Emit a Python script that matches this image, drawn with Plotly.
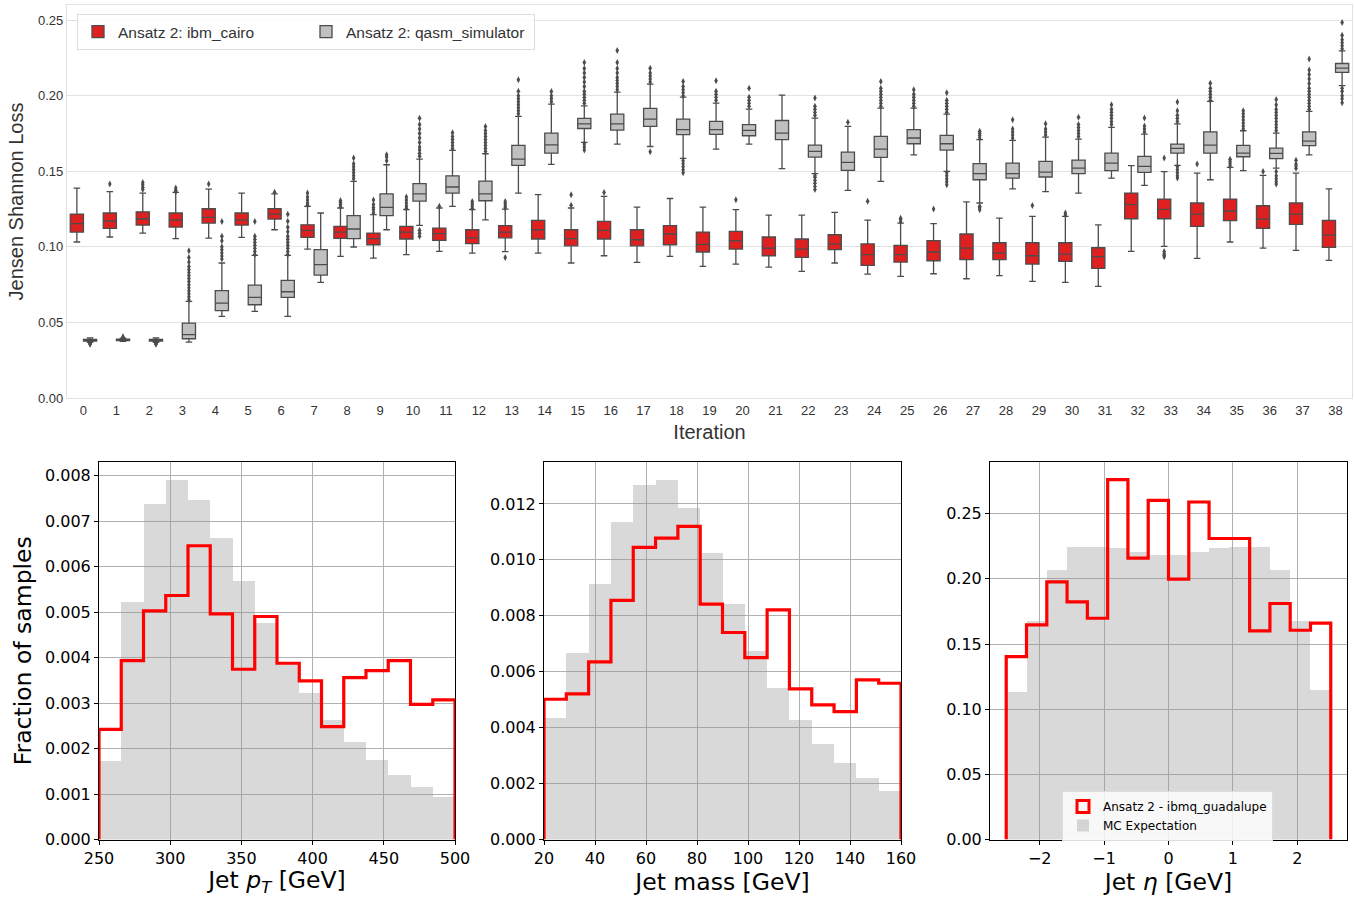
import plotly.graph_objects as go
import numpy as np

# ---------------- Top panel: box statistics ----------------
iterations = list(range(39))

red_lf = [0.1032,0.1065,0.1091,0.1054,0.1058,0.1063,0.1113,0.0985,0.0937,0.0926,0.0948,0.0970,0.0959,0.0968,0.0959,0.0893,0.0941,0.0897,0.0937,0.0871,0.0886,0.0866,0.0838,0.0893,0.0820,0.0805,0.0822,0.0789,0.0809,0.0772,0.0765,0.0739,0.0970,0.1003,0.0924,0.1032,0.0992,0.0976,0.0910]
red_q1 = [0.1098,0.1122,0.1144,0.1131,0.1157,0.1144,0.1184,0.1063,0.1056,0.1014,0.1052,0.1043,0.1021,0.1060,0.1052,0.1007,0.1052,0.1007,0.1014,0.0966,0.0985,0.0941,0.0930,0.0981,0.0877,0.0899,0.0908,0.0915,0.0915,0.0886,0.0904,0.0858,0.1186,0.1186,0.1135,0.1173,0.1122,0.1149,0.0996]
red_med = [0.1153,0.1171,0.1186,0.1179,0.1195,0.1179,0.1217,0.1109,0.1098,0.1054,0.1098,0.1087,0.1060,0.1098,0.1113,0.1054,0.1109,0.1047,0.1085,0.1016,0.1041,0.0992,0.0985,0.1019,0.0948,0.0948,0.0966,0.0992,0.0959,0.0941,0.0952,0.0935,0.1279,0.1248,0.1217,0.1237,0.1184,0.1217,0.1078]
red_q3 = [0.1217,0.1224,0.1232,0.1224,0.1252,0.1224,0.1252,0.1146,0.1135,0.1091,0.1135,0.1124,0.1113,0.1140,0.1175,0.1113,0.1168,0.1113,0.1140,0.1098,0.1102,0.1065,0.1052,0.1080,0.1019,0.1010,0.1041,0.1085,0.1027,0.1027,0.1027,0.0994,0.1356,0.1316,0.1290,0.1316,0.1272,0.1290,0.1175]
red_uf = [0.1389,0.1365,0.1356,0.1360,0.1382,0.1356,0.1350,0.1268,0.1257,0.1213,0.1246,0.1257,0.1246,0.1250,0.1345,0.1257,0.1334,0.1263,0.1320,0.1263,0.1246,0.1210,0.1210,0.1228,0.1177,0.1157,0.1153,0.1298,0.1190,0.1202,0.1202,0.1146,0.1537,0.1497,0.1488,0.1526,0.1473,0.1488,0.1384]
red_outliers = [
    [], [0.1415], [0.1380,0.1395,0.1410,0.1426], [0.1365,0.1375,0.1389], [0.1415], [], [0.1362],
    [0.1275,0.1290,0.1310,0.1330,0.1356], [0.1265,0.1280,0.1295,0.1307], [0.1225,0.1245,0.1260,0.1280,0.1310],
    [0.1255,0.1270,0.1290,0.1310,0.1330], [0.1268], [0.1255,0.1270,0.1285,0.1300], [0.1258,0.1270,0.1285,0.1300,0.0930],
    [], [0.1275,0.1345], [0.1360], [], [], [], [0.1312], [], [], [], [0.1301], [0.1165,0.1180,0.1190], [0.1250],
    [], [], [0.1274], [0.1210,0.1224], [], [], [0.1587,0.0935,0.0945,0.0955,0.0970], [0.1548],
    [0.1535,0.1550,0.1565,0.1580], [0.1499], [0.1520,0.1535,0.1548,0.1573], [],
]

gray_lf = [0.0368,0.0375,0.0368,0.0370,0.0540,0.0573,0.0540,0.0765,0.0999,0.1113,0.1142,0.1268,0.1179,0.1356,0.1545,0.1691,0.1680,0.1664,0.1585,0.1647,0.1680,0.1517,0.1484,0.1373,0.1433,0.1609,0.1499,0.1290,0.1384,0.1365,0.1356,0.1455,0.1407,0.1539,0.1444,0.1504,0.1521,0.1609,0.2066]
gray_q1 = [0.0377,0.0380,0.0377,0.0392,0.0578,0.0617,0.0666,0.0813,0.1054,0.1206,0.1303,0.1356,0.1305,0.1539,0.1620,0.1783,0.1772,0.1797,0.1742,0.1744,0.1735,0.1709,0.1594,0.1506,0.1592,0.1682,0.1640,0.1444,0.1455,0.1462,0.1484,0.1504,0.1493,0.1620,0.1620,0.1596,0.1583,0.1669,0.2154]
gray_med = [0.0382,0.0385,0.0382,0.0419,0.0628,0.0666,0.0703,0.0882,0.1118,0.1261,0.1351,0.1396,0.1351,0.1581,0.1675,0.1814,0.1814,0.1845,0.1775,0.1775,0.1770,0.1753,0.1631,0.1559,0.1647,0.1720,0.1682,0.1484,0.1484,0.1495,0.1521,0.1554,0.1532,0.1651,0.1673,0.1620,0.1618,0.1700,0.2183]
gray_q3 = [0.0388,0.0390,0.0388,0.0496,0.0710,0.0747,0.0778,0.0981,0.1206,0.1351,0.1418,0.1470,0.1435,0.1671,0.1753,0.1850,0.1878,0.1916,0.1845,0.1830,0.1808,0.1836,0.1673,0.1627,0.1731,0.1775,0.1737,0.1550,0.1554,0.1565,0.1574,0.1620,0.1598,0.1680,0.1761,0.1671,0.1653,0.1761,0.2213]
gray_uf = [0.0398,0.0396,0.0398,0.0639,0.0893,0.0944,0.0944,0.1224,0.1433,0.1543,0.1580,0.1638,0.1616,0.1863,0.1944,0.1933,0.2024,0.2077,0.1991,0.1951,0.1911,0.2004,0.1852,0.1797,0.1918,0.1918,0.1878,0.1709,0.1704,0.1726,0.1713,0.1790,0.1746,0.1814,0.1962,0.1768,0.1753,0.1896,0.2297]
gray_outliers = [
    [0.0355,0.0360,0.0363], [0.0400,0.0405], [0.0355,0.0360,0.0363],
    [0.065,0.067,0.069,0.071,0.073,0.075,0.077,0.079,0.081,0.083,0.085,0.087,0.090,0.093,0.0975],
    [0.092,0.094,0.096,0.098,0.100,0.104,0.107,0.1168],
    [0.095,0.097,0.099,0.101,0.103,0.105,0.107,0.1168],
    [0.095,0.097,0.099,0.101,0.103,0.105,0.107,0.110,0.113,0.117,0.1215],
    [],
    [0.145,0.147,0.149,0.151,0.153,0.155,0.1587],
    [0.157,0.1595,0.1609],
    [0.160,0.162,0.164,0.166,0.169,0.172,0.175,0.178,0.181,0.185,0.107,0.109,0.111],
    [0.165,0.167,0.169,0.171,0.173,0.1755],
    [0.163,0.165,0.167,0.169,0.171,0.173,0.175,0.177,0.1797],
    [0.188,0.190,0.192,0.194,0.196,0.198,0.200,0.203,0.2105],
    [0.196,0.198,0.200,0.2028],
    [0.195,0.197,0.199,0.201,0.203,0.206,0.209,0.212,0.215,0.218,0.222,0.164,0.166,0.168],
    [0.204,0.206,0.208,0.210,0.212,0.215,0.218,0.222,0.2299],
    [0.209,0.211,0.213,0.215,0.2182,0.1629],
    [0.200,0.202,0.204,0.206,0.2094,0.149,0.151,0.153,0.155,0.157],
    [0.197,0.199,0.201,0.203,0.2099],
    [0.193,0.195,0.197,0.199,0.2050],
    [],
    [0.187,0.189,0.191,0.193,0.1984,0.138,0.140,0.142,0.144,0.146,0.147],
    [0.1825],
    [0.193,0.195,0.197,0.199,0.201,0.203,0.205,0.2094],
    [0.193,0.195,0.197,0.199,0.201,0.2039],
    [0.189,0.191,0.193,0.195,0.197,0.2019,0.141,0.143,0.145,0.147,0.149],
    [0.172,0.1736,0.175,0.1764,0.1246,0.1258,0.1268],
    [0.172,0.174,0.176,0.178,0.1841],
    [0.174,0.176,0.178,0.1814],
    [0.173,0.175,0.177,0.179,0.181,0.1858],
    [0.181,0.183,0.185,0.187,0.189,0.191,0.194],
    [0.176,0.178,0.180,0.1852],
    [0.183,0.185,0.187,0.190,0.1958,0.1455,0.147,0.149,0.151,0.153],
    [0.197,0.199,0.201,0.203,0.205,0.2083],
    [0.178,0.180,0.182,0.184,0.186,0.188,0.190],
    [0.177,0.179,0.181,0.183,0.185,0.187,0.189,0.191,0.194,0.1975,0.1415,0.143,0.145,0.147,0.1499],
    [0.191,0.193,0.195,0.197,0.199,0.201,0.203,0.205,0.208,0.211,0.214,0.217,0.2242],
    [0.231,0.233,0.235,0.237,0.240,0.2485,0.1953,0.198,0.200,0.203,0.205],
]

# ---------------- Bottom panels: histograms ----------------
pt_range = (250, 500)
pt_mc = [0.001725,0.005218,0.007383,0.007912,0.007471,0.006635,0.005688,0.004771,0.00390,0.003222,0.002628,0.002136,0.001747,0.001417,0.001145,0.000939]
pt_q = [0.002422,0.003934,0.005028,0.005365,0.006459,0.004961,0.003743,0.004903,0.003875,0.003486,0.002481,0.003560,0.003714,0.003934,0.002972,0.003068]

mass_range = (20, 160)
mass_mc = [0.004334,0.006675,0.009134,0.01137,0.01269,0.01286,0.01186,0.01024,0.00843,0.006734,0.005421,0.004275,0.003415,0.002734,0.002185,0.001731]
mass_q = [0.005015,0.005206,0.006352,0.008549,0.010448,0.01078,0.01120,0.008418,0.007403,0.006507,0.008215,0.005385,0.004812,0.004573,0.005707,0.005588]

eta_range = (-2.52, 2.52)
eta_mc = [0.1132,0.1675,0.2070,0.2246,0.2246,0.2239,0.2205,0.2185,0.2185,0.2208,0.2239,0.2246,0.2246,0.2070,0.1675,0.1148]
eta_q = [0.1404,0.1647,0.1977,0.1824,0.1698,0.2761,0.2159,0.2602,0.1998,0.2590,0.2310,0.2310,0.1601,0.1811,0.1606,0.1660]

RED_BOX = '#df2020'
GRAY_BOX = '#c0c0c0'
EDGE = '#4c4c4c'
TOPFONT = 'Liberation Sans, Arial, sans-serif'
BOTFONT = 'DejaVu Sans, sans-serif'
TOPTXT = '#333333'

fig = go.Figure()

fig.add_trace(go.Box(
    x=iterations, q1=red_q1, median=red_med, q3=red_q3,
    lowerfence=red_lf, upperfence=red_uf,
    name='Ansatz 2: ibm_cairo', fillcolor=RED_BOX,
    line=dict(color=EDGE, width=1.3), whiskerwidth=0.5,
    offsetgroup='red', xaxis='x', yaxis='y', legend='legend', hoverinfo='skip'))
fig.add_trace(go.Box(
    x=iterations, q1=gray_q1, median=gray_med, q3=gray_q3,
    lowerfence=gray_lf, upperfence=gray_uf,
    name='Ansatz 2: qasm_simulator', fillcolor=GRAY_BOX,
    line=dict(color=EDGE, width=1.3), whiskerwidth=0.5,
    offsetgroup='gray', xaxis='x', yaxis='y', legend='legend', hoverinfo='skip'))

def flat(outl, shift):
    xs, ys = [], []
    for i, vals in zip(iterations, outl):
        for v in vals:
            xs.append(i + shift)
            ys.append(v)
    return xs, ys

for outl, shift in ((red_outliers, -0.2), (gray_outliers, 0.2)):
    xs, ys = flat(outl, shift)
    fig.add_trace(go.Scatter(x=xs, y=ys, mode='markers', showlegend=False,
                             marker=dict(symbol='diamond-tall', size=5, color=EDGE),
                             xaxis='x', yaxis='y', hoverinfo='skip'))

# bottom histograms
panels = [
    (pt_range, pt_mc, pt_q, 'x2', 'y2'),
    (mass_range, mass_mc, mass_q, 'x3', 'y3'),
    (eta_range, eta_mc, eta_q, 'x4', 'y4'),
]
for k, (rng, mc, q, xa, ya) in enumerate(panels):
    n = len(mc)
    edges = np.linspace(rng[0], rng[1], n + 1)
    centers = 0.5 * (edges[:-1] + edges[1:])
    w = edges[1] - edges[0]
    fig.add_trace(go.Bar(x=centers, y=mc, width=w, marker=dict(color='rgba(150,150,150,0.36)', line=dict(width=0)),
                         name='MC Expectation', showlegend=(k == 2), legend='legend2',
                         xaxis=xa, yaxis=ya, hoverinfo='skip'))
    sx = [edges[0]] + list(edges[:-1]) + [edges[-1], edges[-1]]
    sy = [0] + list(q) + [q[-1], 0]
    fig.add_trace(go.Scatter(x=sx, y=sy, mode='lines', line=dict(color='#ff0000', width=3.2, shape='hv'),
                             showlegend=False, xaxis=xa, yaxis=ya, hoverinfo='skip'))

# legend proxy for the step histogram (outlined rectangle)
fig.add_trace(go.Bar(x=[None], y=[None], name='Ansatz 2 - ibmq_guadalupe',
                     marker=dict(color='rgba(255,255,255,0)', line=dict(color='#ff0000', width=3)),
                     xaxis='x4', yaxis='y4', legend='legend2', legendrank=1))

top_y = [1 - 398 / 897, 1 - 5 / 897]
bot_y = [1 - 839.5 / 897, 1 - 462 / 897]

common_b = dict(showline=True, linecolor='black', linewidth=1, mirror=True,
                ticks='outside', ticklen=4, tickcolor='black', showgrid=True,
                gridcolor='#b0b0b0', gridwidth=1, zeroline=False, automargin=False,
                tickfont=dict(family=BOTFONT, size=16, color='black'))
btitle = dict(family=BOTFONT, size=23.5, color='black')

fig.update_layout(
    width=1354, height=897, margin=dict(l=0, r=0, t=0, b=0),
    paper_bgcolor='white', plot_bgcolor='white',
    boxmode='group', boxgap=0.2, boxgroupgap=0.0, bargap=0,
    showlegend=True,
    xaxis=dict(domain=[67 / 1354, 1352 / 1354], range=[-0.5, 38.5], anchor='y', automargin=False,
               tickmode='array', tickvals=iterations, ticktext=[str(i) for i in iterations],
               showgrid=False, zeroline=False, showline=True, linecolor='#e2e2e2', linewidth=1.2, mirror=True,
               ticks='', tickfont=dict(family=TOPFONT, size=13, color=TOPTXT),
               title=dict(text='Iteration', font=dict(family=TOPFONT, size=20, color=TOPTXT), standoff=8)),
    yaxis=dict(domain=top_y, range=[0, 0.26], anchor='x', automargin=False,
               tickmode='array', tickvals=[0, 0.05, 0.10, 0.15, 0.20, 0.25],
               ticktext=['0.00', '0.05', '0.10', '0.15', '0.20', '0.25'],
               showgrid=True, gridcolor='#e2e2e2', gridwidth=1.2, zeroline=False,
               showline=True, linecolor='#e2e2e2', linewidth=1.2, mirror=True, ticks='',
               tickfont=dict(family=TOPFONT, size=13, color=TOPTXT),
               title=dict(text='Jensen Shannon Loss', font=dict(family=TOPFONT, size=20, color=TOPTXT), standoff=8)),
    xaxis2=dict(domain=[99 / 1354, 455 / 1354], range=[250, 500], anchor='y2',
                tickvals=[250, 300, 350, 400, 450, 500],
                title=dict(text='Jet <i>p</i><sub><i>T</i></sub> [GeV]', font=btitle, standoff=6),
                **common_b),
    yaxis2=dict(domain=bot_y, range=[0, 0.0083], anchor='x2',
                tickvals=[0, 0.001, 0.002, 0.003, 0.004, 0.005, 0.006, 0.007, 0.008], tickformat='.3f',
                title=dict(text='Fraction of samples', font=btitle, standoff=6),
                **common_b),
    xaxis3=dict(domain=[544 / 1354, 901 / 1354], range=[20, 160], anchor='y3',
                tickvals=[20, 40, 60, 80, 100, 120, 140, 160],
                title=dict(text='Jet mass [GeV]', font=btitle, standoff=6),
                **common_b),
    yaxis3=dict(domain=bot_y, range=[0, 0.0135], anchor='x3',
                tickvals=[0, 0.002, 0.004, 0.006, 0.008, 0.010, 0.012], tickformat='.3f',
                **common_b),
    xaxis4=dict(domain=[990 / 1354, 1347 / 1354], range=[-2.772, 2.772], anchor='y4',
                tickvals=[-2, -1, 0, 1, 2],
                title=dict(text='Jet <i>η</i> [GeV]', font=btitle, standoff=6),
                **common_b),
    yaxis4=dict(domain=bot_y, range=[0, 0.2897], anchor='x4',
                tickvals=[0, 0.05, 0.10, 0.15, 0.20, 0.25], tickformat='.2f',
                **common_b),
    legend=dict(x=77 / 1354, y=1 - 14 / 897, xanchor='left', yanchor='top', orientation='h',
                bgcolor='rgba(255,255,255,0.85)', bordercolor='#dddddd', borderwidth=1,
                entrywidth=183, entrywidthmode='pixels',
                font=dict(family=TOPFONT, size=15.5, color=TOPTXT), traceorder='normal'),
    legend2=dict(x=1062 / 1354, y=1 - 791 / 897, xanchor='left', yanchor='top', orientation='v',
                 bgcolor='rgba(255,255,255,0.8)', bordercolor='#dddddd', borderwidth=1,
                 font=dict(family=BOTFONT, size=12, color='black'), traceorder='normal'),
)

fig.write_html('out.html')
